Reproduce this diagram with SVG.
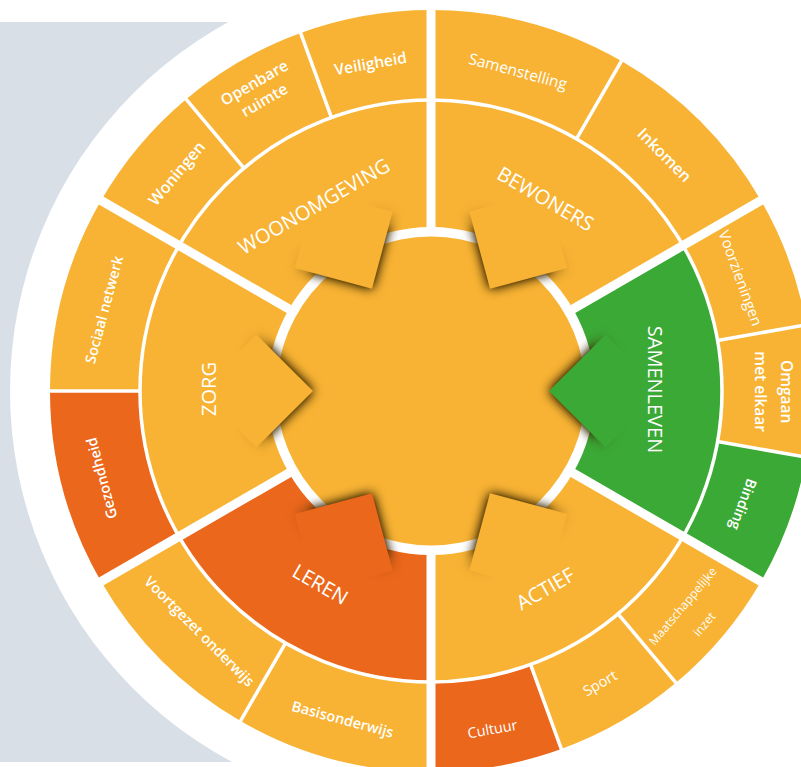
<svg xmlns="http://www.w3.org/2000/svg" width="801" height="767" viewBox="0 0 801 767">
<style>
.y{fill:#F8B334}
.o{fill:#EB671B}
.g{fill:#3BA935}
.sh{filter:url(#blur);mask:url(#fade)}
text{fill:#fff;text-anchor:middle;font-family:"Open Sans","Liberation Sans",sans-serif}
.main{font-size:20px;font-weight:400}
.sb{font-weight:600}
.rg{font-weight:400}
.maj{stroke:#fff;stroke-width:9;fill:none}
.min{stroke:#fff;stroke-width:3.5;fill:none}
</style>
<defs>
<radialGradient id="rgf" gradientUnits="userSpaceOnUse" cx="431" cy="391" r="250">
<stop offset="0.656" stop-color="#fff"/>
<stop offset="0.69" stop-color="#666"/>
<stop offset="0.74" stop-color="#1a1a1a"/>
<stop offset="0.8" stop-color="#000"/>
</radialGradient>
<mask id="fade" maskUnits="userSpaceOnUse" x="0" y="0" width="801" height="767"><rect width="801" height="767" fill="url(#rgf)"/></mask>
<filter id="blur" x="-40%" y="-40%" width="180%" height="180%" color-interpolation-filters="sRGB">
<feGaussianBlur in="SourceAlpha" stdDeviation="6" result="b"/>
<feComponentTransfer in="b" result="a"><feFuncA type="linear" slope="1.5"/></feComponentTransfer>
<feFlood flood-color="#3a2600"/>
<feComposite in2="a" operator="in"/>
</filter>
</defs>
<rect width="801" height="767" fill="#fff"/>
<rect x="0" y="22" width="431" height="740" fill="#D8DFE7"/>
<circle cx="431" cy="391" r="421" fill="#fff"/>
<circle id="core" cx="431" cy="391" r="154.5" class="y"/>

<g id="woonomgeving">
<path class="y" d="M178.99,245.5 A291,291 0 0 1 431,100 L431,227 A164,164 0 0 0 288.97,309 Z"/>
<polygon class="sh" points="372,288.8 294.7,268.1 315.4,190.8 392.7,211.5"/>
<polygon class="y" points="372,288.8 294.7,268.1 315.4,190.8 392.7,211.5"/>
<text class="main" transform="translate(317.5,212.5) rotate(-30)">WOONOMGEVING</text>
</g>
<g id="bewoners">
<path class="y" d="M431,100 A291,291 0 0 1 683.01,245.5 L573.03,309 A164,164 0 0 0 431,227 Z"/>
<polygon class="sh" points="490,288.8 469.3,211.5 546.6,190.8 567.3,268.1"/>
<polygon class="y" points="490,288.8 469.3,211.5 546.6,190.8 567.3,268.1"/>
<text class="main" transform="translate(542,205) rotate(30)">BEWONERS</text>
</g>
<g id="samenleven">
<path class="g" d="M683.01,245.5 A291,291 0 0 1 683.01,536.5 L573.03,473 A164,164 0 0 0 573.03,309 Z"/>
<polygon class="sh" points="549,391 605.6,334.4 662.1,391 605.6,447.6"/>
<polygon class="g" points="549,391 605.6,334.4 662.1,391 605.6,447.6"/>
<text class="main" transform="translate(648.3,389.5) rotate(90)">SAMENLEVEN</text>
</g>
<g id="actief">
<path class="y" d="M683.01,536.5 A291,291 0 0 1 431,682 L431,555 A164,164 0 0 0 573.03,473 Z"/>
<polygon class="sh" points="490,493.2 567.3,513.9 546.6,591.2 469.3,570.5"/>
<polygon class="y" points="490,493.2 567.3,513.9 546.6,591.2 469.3,570.5"/>
<text class="main" transform="translate(549,595) rotate(-30)">ACTIEF</text>
</g>
<g id="leren">
<path class="o" d="M431,682 A291,291 0 0 1 178.99,536.5 L288.97,473 A164,164 0 0 0 431,555 Z"/>
<polygon class="sh" points="372,493.2 392.7,570.5 315.4,591.2 294.7,513.9"/>
<polygon class="o" points="372,493.2 392.7,570.5 315.4,591.2 294.7,513.9"/>
<text class="main" transform="translate(316.7,590.5) rotate(30)">LEREN</text>
</g>
<g id="zorg">
<path class="y" d="M178.99,536.5 A291,291 0 0 1 178.99,245.5 L288.97,309 A164,164 0 0 0 288.97,473 Z"/>
<polygon class="sh" points="313,391 256.4,334.4 199.9,391 256.4,447.6"/>
<polygon class="y" points="313,391 256.4,334.4 199.9,391 256.4,447.6"/>
<text class="main" transform="translate(216,389) rotate(-90)">ZORG</text>
</g>

<g id="veiligheid">
<path class="y" d="M300.7,32.97 A381,381 0 0 1 431,10 L431,100 A291,291 0 0 0 331.48,117.55 Z"/>
<text class="sb" font-size="15.5" transform="translate(371.5,69) rotate(-10)">Veiligheid</text>
</g>
<g id="openbare-ruimte">
<path class="y" d="M186.09,99.15 A381,381 0 0 1 300.7,32.97 L331.48,117.55 A291,291 0 0 0 243.95,168.09 Z"/>
<text class="sb" font-size="15.5" transform="translate(257,87.5) rotate(-30)"><tspan x="0" y="0">Openbare</tspan><tspan x="0" y="20">ruimte</tspan></text>
</g>
<g id="woningen">
<path class="y" d="M101.05,200.5 A381,381 0 0 1 186.09,99.15 L243.95,168.09 A291,291 0 0 0 178.99,245.5 Z"/>
<text class="sb" font-size="16" transform="translate(181,177) rotate(-50)">Woningen</text>
</g>
<g id="sociaal-netwerk">
<path class="y" d="M50,391 A381,381 0 0 1 101.05,200.5 L178.99,245.5 A291,291 0 0 0 140,391 Z"/>
<text class="sb" font-size="14.5" transform="translate(109,311) rotate(-75)">Sociaal netwerk</text>
</g>
<g id="gezondheid">
<path class="o" d="M101.05,581.5 A381,381 0 0 1 50,391 L140,391 A291,291 0 0 0 178.99,536.5 Z"/>
<text class="sb" font-size="14.5" transform="translate(106.7,477) rotate(-105)">Gezondheid</text>
</g>
<g id="voortgezet-onderwijs">
<path class="y" d="M240.5,720.95 A381,381 0 0 1 101.05,581.5 L178.99,536.5 A291,291 0 0 0 285.5,643.01 Z"/>
<text class="sb" font-size="14.5" transform="translate(195.8,635) rotate(45)">Voortgezet onderwijs</text>
</g>
<g id="basisonderwijs">
<path class="y" d="M431,772 A381,381 0 0 1 240.5,720.95 L285.5,643.01 A291,291 0 0 0 431,682 Z"/>
<text class="sb" font-size="14.5" transform="translate(341.3,724.2) rotate(15)">Basisonderwijs</text>
</g>
<g id="cultuur">
<path class="o" d="M561.3,749.03 A381,381 0 0 1 431,772 L431,682 A291,291 0 0 0 530.52,664.45 Z"/>
<text class="rg" font-size="14.5" transform="translate(493.3,734) rotate(-10)">Cultuur</text>
</g>
<g id="sport">
<path class="y" d="M675.91,682.85 A381,381 0 0 1 561.3,749.03 L530.52,664.45 A291,291 0 0 0 618.05,613.91 Z"/>
<text class="rg" font-size="14.5" transform="translate(602.5,687.5) rotate(-30)">Sport</text>
</g>
<g id="maatschappelijke-inzet">
<path class="y" d="M760.95,581.5 A381,381 0 0 1 675.91,682.85 L618.05,613.91 A291,291 0 0 0 683.01,536.5 Z"/>
<text class="rg" font-size="12" transform="translate(686,609) rotate(-50)"><tspan x="0" y="0">Maatschappelijke</tspan><tspan x="0" y="28">inzet</tspan></text>
</g>
<g id="binding">
<path class="g" d="M806.21,457.16 A381,381 0 0 1 760.95,581.5 L683.01,536.5 A291,291 0 0 0 717.58,441.53 Z"/>
<text class="sb" font-size="14.5" transform="translate(738.3,502.5) rotate(110)">Binding</text>
</g>
<g id="omgaan-met-elkaar">
<path class="y" d="M806.21,324.84 A381,381 0 0 1 806.21,457.16 L717.58,441.53 A291,291 0 0 0 717.58,340.47 Z"/>
<text class="sb" font-size="15.5" transform="translate(780.7,391.7) rotate(90)"><tspan x="0" y="0">Omgaan</tspan><tspan x="0" y="25.7">met elkaar</tspan></text>
</g>
<g id="voorzieningen">
<path class="y" d="M760.95,200.5 A381,381 0 0 1 806.21,324.84 L717.58,340.47 A291,291 0 0 0 683.01,245.5 Z"/>
<text class="rg" font-size="15" transform="translate(735.5,280) rotate(70)">Voorzieningen</text>
</g>
<g id="inkomen">
<path class="y" d="M621.5,61.05 A381,381 0 0 1 760.95,200.5 L683.01,245.5 A291,291 0 0 0 576.5,138.99 Z"/>
<text class="sb" font-size="16" transform="translate(660.5,159) rotate(45)">Inkomen</text>
</g>
<g id="samenstelling">
<path class="y" d="M431,10 A381,381 0 0 1 621.5,61.05 L576.5,138.99 A291,291 0 0 0 431,100 Z"/>
<text class="rg" font-size="15.5" transform="translate(516.5,76.5) rotate(15)">Samenstelling</text>
</g>

<g id="connectors">
<circle class="min" cx="431" cy="391" r="291"/>
<path class="maj" d="M431,231 L431,5 M569.56,311 L765.28,198 M569.56,471 L765.28,584 M431,551 L431,777 M292.44,471 L96.72,584 M292.44,311 L96.72,198"/>
<path class="min" d="M331.48,117.55 L298.99,28.28 M243.95,168.09 L182.88,95.32 M576.5,138.99 L624,56.71 M717.58,340.47 L811.14,323.97 M717.58,441.53 L811.14,458.03 M618.05,613.91 L679.12,686.68 M530.52,664.45 L563.01,753.72 M140,391 L45,391 M285.5,643.01 L238,725.29"/>
</g>
</svg>
